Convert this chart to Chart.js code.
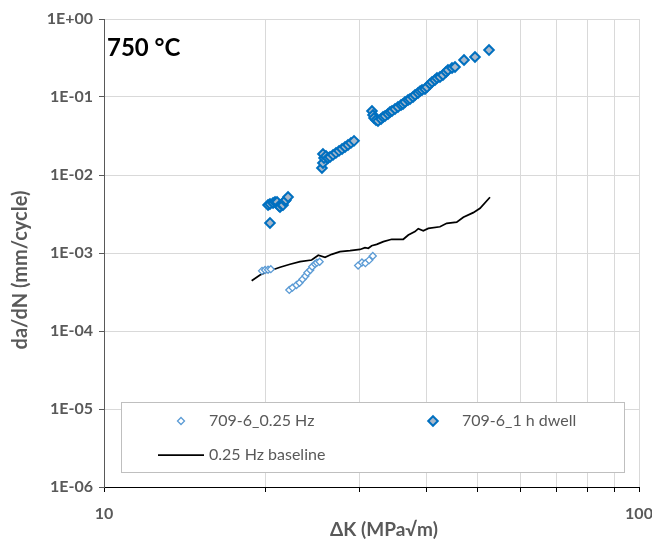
<!DOCTYPE html>
<html>
<head>
<meta charset="utf-8">
<script src="https://cdn.jsdelivr.net/npm/chart.js@4"></script>
<style>
  html, body { margin: 0; padding: 0; background: #fff; }
  #wrap { width: 652px; height: 542px; }
</style>
</head>
<body>
<div id="wrap"><canvas id="crackChart" width="652" height="542"></canvas></div>
<script>
// Data (dK in MPa*sqrt(m), da/dN in mm/cycle)
const hzX = [19.74, 20.0, 20.26, 20.5,
  22.2, 22.5, 22.9, 23.2, 23.5, 23.8, 24.0, 24.3, 24.5, 24.8, 25.0, 25.3,
  29.85, 30.35, 30.8, 31.3, 31.8];
const hzY = [5.9e-4, 6.05e-4, 6.1e-4, 6.2e-4,
  3.36e-4, 3.59e-4, 3.89e-4, 4.16e-4, 4.6e-4, 5.07e-4, 5.59e-4, 6.05e-4, 6.67e-4, 7.22e-4, 7.51e-4, 7.73e-4,
  6.9e-4, 7.55e-4, 7.4e-4, 8.1e-4, 9.15e-4];

const dwellX = [20.43, 20.26, 20.43, 20.70, 20.88, 21.06, 21.24, 21.33, 21.51, 21.61, 21.79, 21.88, 22.08,
  25.55, 25.66, 25.78, 25.66, 26.0, 26.23, 26.45, 26.8, 27.14, 27.5, 27.86, 28.22, 28.58, 28.95, 29.33,
  31.69, 31.83, 31.97, 32.24, 32.52, 32.95, 33.23, 33.52, 33.95, 34.25, 34.54, 34.99, 35.44, 35.91,
  36.22, 36.53, 37.01, 37.33, 37.81, 38.14, 38.64, 38.97, 39.31, 39.81, 40.15, 40.68, 41.03, 41.56,
  41.92, 42.46, 43.01, 43.58, 43.95, 44.72, 45.30, 47.09, 49.37, 52.44];
const dwellY = [0.00243, 0.00412, 0.00425, 0.00438, 0.00451, 0.00451, 0.00401, 0.00389, 0.00412, 0.00412, 0.00464, 0.00478, 0.00522,
  0.0123, 0.01425, 0.0165, 0.0186, 0.0175, 0.0165, 0.0170, 0.0181, 0.0192, 0.0204, 0.0216, 0.0229, 0.0243, 0.0258, 0.0274,
  0.0661, 0.0588, 0.0538, 0.0507, 0.0492, 0.0522, 0.0554, 0.0571, 0.0606, 0.0642, 0.0661, 0.0702, 0.0744, 0.0790,
  0.0813, 0.0863, 0.0915, 0.0943, 0.100, 0.106, 0.1125, 0.119, 0.123, 0.1266, 0.134, 0.1468, 0.1557, 0.165,
  0.175, 0.1805, 0.1915, 0.209, 0.222, 0.2354, 0.2424, 0.298, 0.326, 0.40];

const baseX = [18.88, 19.57, 20.43, 21.33, 22.27, 23.25, 24.44, 25.15, 25.89, 26.65, 27.61, 28.83, 30.10,
  30.75, 31.19, 31.65, 32.34, 33.28, 34.50, 36.26, 37.05, 38.13, 38.68, 39.52, 40.38, 42.46, 43.71,
  45.63, 46.95, 49.0, 50.45, 52.66];
const baseY = [4.41e-4, 5.22e-4, 5.93e-4, 6.56e-4, 7.17e-4, 7.73e-4, 8.13e-4, 9.35e-4, 8.81e-4, 9.62e-4, 1.04e-3, 1.07e-3, 1.11e-3,
  1.17e-3, 1.15e-3, 1.24e-3, 1.29e-3, 1.40e-3, 1.50e-3, 1.50e-3, 1.70e-3, 1.88e-3, 2.05e-3, 1.93e-3, 2.07e-3, 2.17e-3, 2.40e-3,
  2.48e-3, 2.87e-3, 3.29e-3, 3.74e-3, 5.18e-3];

const xTicks = [10, 20, 30, 40, 50, 60, 70, 80, 90, 100];
const xTickLabels = ['10', '', '', '', '', '', '', '', '', '100'];
const yTicks = [1e-6, 1e-5, 1e-4, 1e-3, 1e-2, 1e-1, 1];
const yTickLabels = ['1E-06', '1E-05', '1E-04', '1E-03', '1E-02', '1E-01', '1E+00'];

const seriesNames = ['709-6_0.25 Hz', '709-6_1 h dwell', '0.25 Hz baseline'];
const chartTitle = '750 °C';
const xTitle = 'ΔK (MPa√m)';
const yTitle = 'da/dN (mm/cycle)';

const toPoints = (xs, ys) => xs.map((x, i) => ({ x: x, y: ys[i] }));

const DWELL_EDGE = '#0070c0';
const DWELL_FILL = '#a9b8ca';
const HZ_EDGE = '#5b9bd5';
const TEXT_GRAY = '#595959';
const GRID = '#d9d9d9';

function diamond(ctx, x, y, r, fill, stroke, lw) {
    ctx.beginPath();
    ctx.moveTo(x, y - r);
    ctx.lineTo(x + r, y);
    ctx.lineTo(x, y + r);
    ctx.lineTo(x - r, y);
    ctx.closePath();
    ctx.fillStyle = fill;
    ctx.fill();
    ctx.lineWidth = lw;
    ctx.strokeStyle = stroke;
    ctx.stroke();
}

// Title, axis titles and the boxed legend that sits inside the plot
const overlayPlugin = {
    id: 'overlay',
    afterDraw(chart) {
        const ctx = chart.ctx;
        ctx.save();
        ctx.font = 'bold 24px Lato';
        ctx.fillStyle = '#000';
        ctx.textBaseline = 'middle';
        ctx.textAlign = 'left';
        ctx.fillText(chartTitle, 107, 48);

        // axis titles
        ctx.font = 'bold 19px Lato';
        ctx.fillStyle = TEXT_GRAY;
        ctx.textAlign = 'center';
        ctx.fillText(xTitle, 384, 530);
        ctx.save();
        ctx.translate(21, 270);
        ctx.rotate(-Math.PI / 2);
        ctx.font = 'bold 20px Lato';
        ctx.fillText(yTitle, 0, 0);
        ctx.restore();

        // legend box
        ctx.textAlign = 'left';
        ctx.fillStyle = '#fff';
        ctx.fillRect(121, 402, 503, 70);
        ctx.strokeStyle = '#bfbfbf';
        ctx.lineWidth = 1;
        ctx.strokeRect(121.5, 402.5, 503, 70);

        diamond(ctx, 181, 421, 3.5, '#fff', HZ_EDGE, 1.3);
        diamond(ctx, 433, 421, 4.8, DWELL_FILL, DWELL_EDGE, 2);
        ctx.beginPath();
        ctx.moveTo(158, 455);
        ctx.lineTo(204, 455);
        ctx.strokeStyle = '#000';
        ctx.lineWidth = 1.75;
        ctx.stroke();

        ctx.font = '16px Lato';
        ctx.fillStyle = TEXT_GRAY;
        ctx.fillText(seriesNames[0], 209, 421);
        ctx.fillText(seriesNames[1], 462, 421);
        ctx.fillText(seriesNames[2], 209, 455);
        ctx.restore();
    }
};

const ctx = document.getElementById('crackChart').getContext('2d');
const crackChart = new Chart(ctx, {
    type: 'scatter',
    data: {
        datasets: [
            {
                label: seriesNames[2],
                data: toPoints(baseX, baseY),
                showLine: true,
                borderColor: '#000',
                borderWidth: 1.75,
                pointRadius: 0,
                fill: false,
                order: 3
            },
            {
                label: seriesNames[0],
                data: toPoints(hzX, hzY),
                pointStyle: 'rectRot',
                pointRadius: 3.5,
                pointBorderWidth: 1.3,
                pointBorderColor: HZ_EDGE,
                pointBackgroundColor: '#fff',
                order: 2
            },
            {
                label: seriesNames[1],
                data: toPoints(dwellX, dwellY),
                pointStyle: 'rectRot',
                pointRadius: 4.8,
                pointBorderWidth: 2,
                pointBorderColor: DWELL_EDGE,
                pointBackgroundColor: DWELL_FILL,
                order: 1
            }
        ]
    },
    options: {
        responsive: false,
        animation: false,
        layout: { padding: { top: 19, right: 13, left: 0, bottom: 0 } },
        plugins: {
            legend: { display: false },
            tooltip: { enabled: false }
        },
        scales: {
            x: {
                type: 'logarithmic',
                min: 10,
                max: 100,
                afterBuildTicks: (scale) => {
                    scale.ticks = xTicks.map(v => ({ value: v }));
                },
                afterFit: (scale) => {
                    scale.height = 55;
                    scale.paddingLeft = 0;
                    scale.paddingRight = 0;
                },
                ticks: {
                    autoSkip: false,
                    maxRotation: 0,
                    padding: 12,
                    color: TEXT_GRAY,
                    font: { family: 'Lato', weight: 'bold', size: 16 },
                    callback: (value) => xTickLabels[xTicks.indexOf(value)]
                },
                grid: { color: GRID, tickColor: '#000', tickLength: 5 },
                border: { color: '#000', width: 1 }
            },
            y: {
                type: 'logarithmic',
                min: 1e-6,
                max: 1,
                afterBuildTicks: (scale) => {
                    scale.ticks = yTicks.map(v => ({ value: v }));
                },
                afterFit: (scale) => {
                    scale.width = 104;
                    scale.paddingTop = 0;
                    scale.paddingBottom = 0;
                },
                ticks: {
                    autoSkip: false,
                    padding: 6,
                    color: TEXT_GRAY,
                    font: { family: 'Lato', weight: 'bold', size: 16 },
                    callback: (value) => yTickLabels[yTicks.indexOf(value)]
                },
                grid: { color: GRID, tickColor: '#595959', tickLength: 5 },
                border: { color: '#595959', width: 1 }
            }
        }
    },
    plugins: [overlayPlugin]
});
</script>
</body>
</html>
